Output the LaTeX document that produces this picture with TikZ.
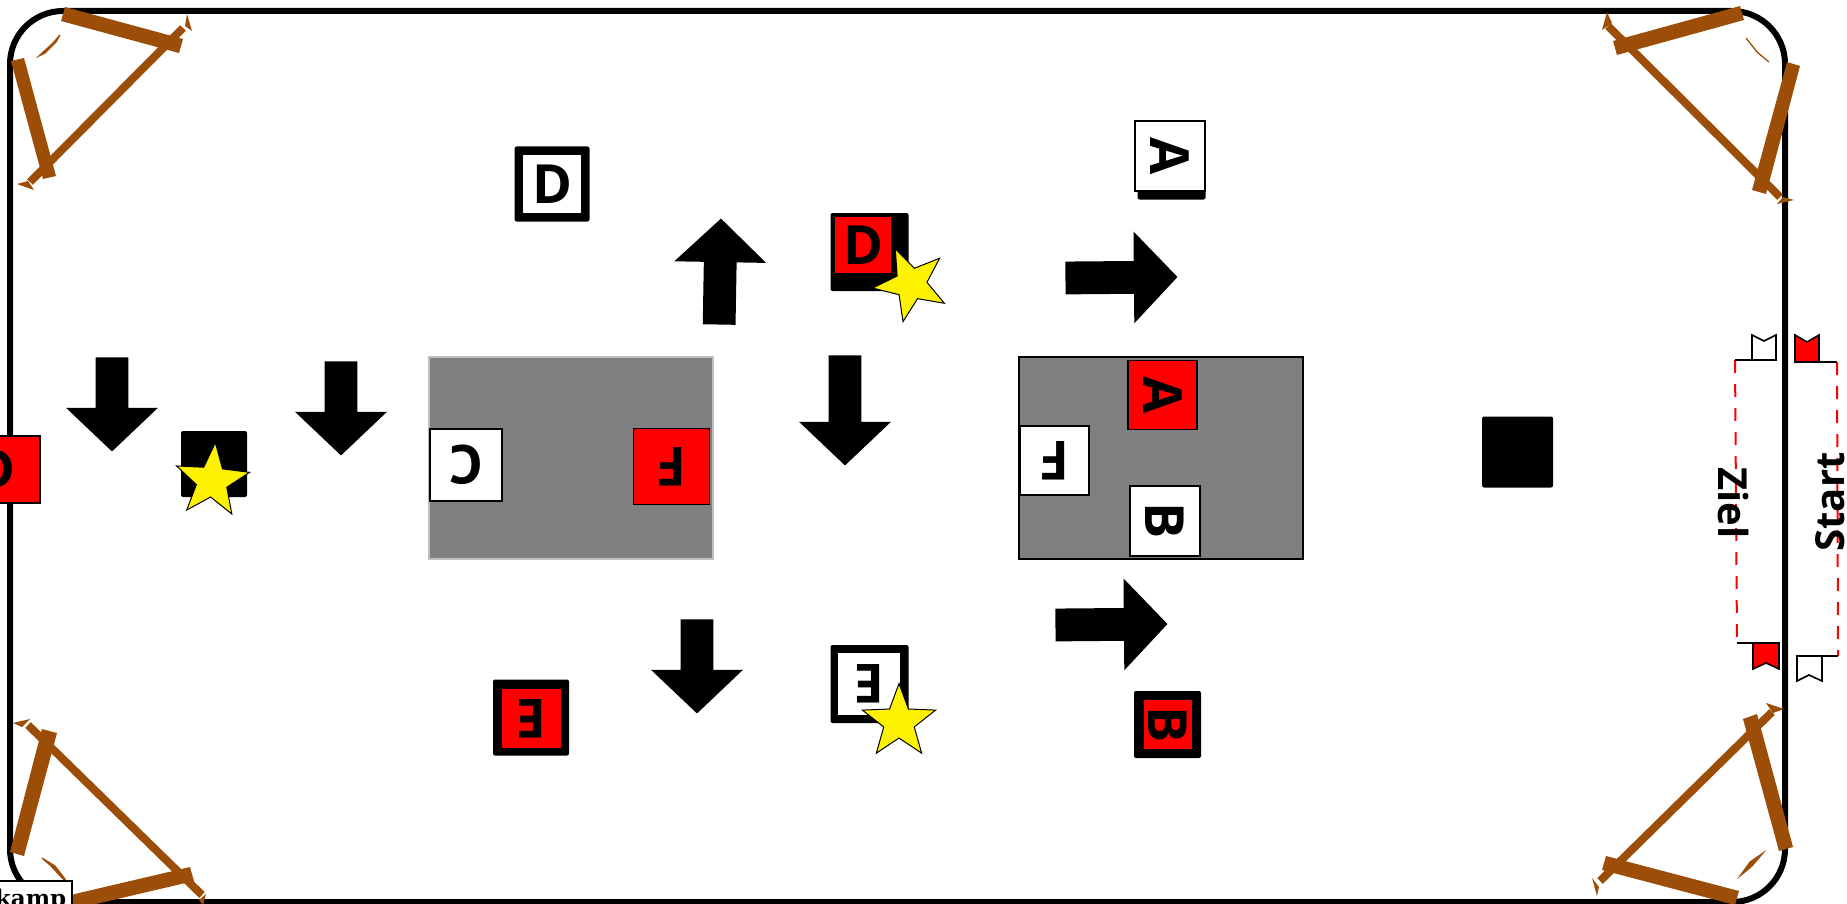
\documentclass[tikz,border=0pt]{standalone}
\usepackage{fontspec}
\setmainfont{Open Sans}
\newfontfamily\kampfont{DejaVu Serif}
\usepackage{tikz}
\usetikzlibrary{shapes.arrows,shapes.geometric}

\begin{document}
\begin{tikzpicture}[x=0.5pt,y=-0.5pt,
    block arrow/.style={single arrow,fill=black,inner xsep=0pt,inner ysep=8pt,single arrow head extend=14.75pt,single arrow tip angle=93,minimum height=47pt,anchor=tip},
    long arrow/.style={block arrow,minimum height=55pt},
    base node/.style={rectangle,fill=black,rounded corners=1pt,inner sep=0pt},
    face node/.style={rectangle,draw=black,line width=0.8pt,inner sep=0pt,font=\bfseries\fontsize{27}{30}\selectfont},
    white face/.style={face node,fill=white},
    red face/.style={face node,fill=red},
    field node/.style={rectangle,fill=gray,inner sep=0pt,minimum width=142pt,minimum height=101pt},
    star node/.style={star,star points=5,star point ratio=2.4,minimum size=38.5pt,inner sep=0pt,draw=black,line width=0.5pt,fill=yellow},
    flag/.style={draw=black,line width=0.8pt},
    goal line/.style={draw=red,line width=1pt,dash pattern=on 6.5pt off 5.5pt},
    side label/.style={font=\bfseries\fontsize{20}{24}\selectfont,inner sep=0pt},
    brace/.style={fill=brownbar},
    brace mark/.style={fill=brownbar,draw=brownbar,line width=0.6pt},
    brace rod/.style={draw=brownbar,line width=4pt}]
\definecolor{brownbar}{RGB}{156,78,8}

\fill[white] (0,0) rectangle (1847,904);
\useasboundingbox (0,0) rectangle (1847,904);

\draw[line width=3pt,rounded corners=26.5pt] (10,11) rectangle (1785,902);

% top left
\draw[brace rod] (183,28) -- (30,182);
\fill[brace] (65,7) -- (183,39) -- (179,53) -- (61,21) -- cycle;
\fill[brace] (11,61) -- (24,58) -- (56,176) -- (43,179) -- cycle;
\fill[brace] (187,14) -- (192,31) -- (185,26) -- cycle;
\fill[brace] (17,184) -- (28,181) -- (34,190) -- cycle;
\filldraw[brace mark] (60,35) -- (53,43) -- (39,56) -- (45,53) -- (56,42) -- cycle;

% top right
\draw[brace rod] (1608,26) -- (1780,197);
\fill[brace] (1740,6) -- (1744,20) -- (1617,55) -- (1613,41) -- cycle;
\fill[brace] (1787,62) -- (1800,66) -- (1766,194) -- (1752,190) -- cycle;
\fill[brace] (1607,12) -- (1612,23) -- (1602,30) -- cycle;
\fill[brace] (1777,204) -- (1794,200) -- (1783,197) -- cycle;
\filldraw[brace mark] (1746,38) -- (1757,52) -- (1769,62) -- (1758,53) -- (1750,43) -- cycle;

% bottom right
\draw[brace rod] (1772,712) -- (1600,881);
\fill[brace] (1743,719) -- (1757,714) -- (1793,847) -- (1779,851) -- cycle;
\fill[brace] (1606,856) -- (1739,891) -- (1735,905) -- (1602,870) -- cycle;
\fill[brace] (1766,703) -- (1784,709) -- (1773,713) -- cycle;
\fill[brace] (1592,878) -- (1599,887) -- (1597,896) -- cycle;
\filldraw[brace mark] (1763,853) -- (1750,862) -- (1740,876) -- (1752,866) -- cycle;

% bottom left
\draw[brace rod] (28,725) -- (202,895);
\fill[brace] (42,729) -- (57,733) -- (24,856) -- (10,852) -- cycle;
\fill[brace] (190,867) -- (194,881) -- (66,911) -- (62,897) -- cycle;
\fill[brace] (13,723) -- (30,719) -- (22,727) -- cycle;
\fill[brace] (206,894) -- (199,900) -- (203,905) -- cycle;
\filldraw[brace mark] (42,858) -- (55,866) -- (65,879) -- (66,882) -- (50,865) -- cycle;

\node[rectangle,draw=black,line width=0.8pt,fill=white,inner xsep=3pt,inner ysep=4pt,anchor=north east,font=\kampfont\bfseries\fontsize{11.5}{13}\selectfont] (kamp) at (73,880) {kamp};

\node[block arrow,rotate=-90] (arrow left) at (112,452) {};
\node[block arrow,rotate=-90] (arrow field) at (341,456) {};
\node[block arrow,rotate=89,minimum height=53pt] (arrow up) at (721,218) {};
\node[long arrow,rotate=-90] (arrow mid) at (845,466) {};
\node[long arrow,minimum height=56pt,rotate=0.5] (arrow upper) at (1178,277) {};
\node[long arrow,minimum height=56pt,rotate=0.5] (arrow lower) at (1168,624) {};
\node[block arrow,rotate=-90] (arrow low) at (697,714) {};

\node[field node,draw=lightgray,line width=1pt] (field left) at (571,458) {};
\node[field node,draw=black,line width=1pt] (field right) at (1160.5,457.5) {};

\node[red face,minimum width=45pt,minimum height=33.5pt] (d edge) at (-5,469.5) {D};

\node[base node,minimum size=33pt] (base start) at (214,464) {};
\node[star node,rotate=-5] (star start) at (212,481) {};

\node[base node,minimum size=35.5pt] (base end) at (1517.5,452) {};

\node[white face,minimum size=36pt,rotate=180] (c tile) at (466,465) {C};
\node[red face,minimum size=38pt,rotate=180] (f tile) at (671.5,466.5) {F};
\node[red face,minimum size=34.5pt,rotate=-90] (a red) at (1162.5,395) {A};
\node[white face,minimum size=34.5pt,rotate=180] (f white) at (1054.5,460.5) {F};
\node[white face,minimum size=35pt,rotate=-90] (b white) at (1165,521) {B};

\node[base node,minimum size=37.5pt] (base d) at (552,184) {};
\node[white face,minimum size=29.5pt] (d white) at (552,184) {D};

\node[base node,minimum size=39pt] (base dr) at (869.5,252) {};
\node[red face,minimum size=28.5pt] (d red) at (863,245) {D};
\node[star node,rotate=24] (star d) at (911,284) {};

\node[base node,minimum size=34pt] (base a) at (1171.5,165.5) {};
\node[white face,minimum size=35pt,rotate=-90] (a white) at (1170,156) {A};

\node[base node,minimum size=38pt] (base er) at (531,717.5) {};
\node[red face,minimum size=30pt,rotate=180] (e red) at (531.5,718.5) {E};

\node[base node,minimum size=39pt] (base ew) at (869.5,684) {};
\node[white face,minimum size=32pt,rotate=180] (e white) at (869,684) {E};
\node[star node] (star e) at (899,722) {};

\node[base node,minimum size=33.5pt] (base br) at (1167.5,724.5) {};
\node[red face,minimum size=25pt,rotate=-90] (b red) at (1168,724.5) {B};

\coordinate (ziel top) at (1735,360);
\coordinate (ziel bottom) at (1737,643);
\coordinate (start top) at (1837,362);
\coordinate (start bottom) at (1838,656);

\draw[goal line] (ziel top) -- (ziel bottom);
\draw[goal line] (start top) -- (start bottom);

\draw[flag,fill=white] (1752,360) -- (1752,335) -- (1764,341) -- (1776,335) -- (1776,360) -- cycle;
\draw[flag] (ziel top) -- (1752,360);
\draw[flag,fill=red] (1795,362) -- (1795,335) -- (1807,342) -- (1819,335) -- (1819,362) -- cycle;
\draw[flag] (1819,362) -- (start top);
\draw[flag,fill=red] (1753,643) -- (1753,669) -- (1766,663) -- (1779,669) -- (1779,643) -- cycle;
\draw[flag] (ziel bottom) -- (1753,643);
\draw[flag,fill=white] (1797,656) -- (1797,681) -- (1809,675) -- (1822,681) -- (1822,656) -- cycle;
\draw[flag] (1822,656) -- (start bottom);

\node[side label,rotate=-90] (ziel) at (1733,503) {Ziel};
\node[side label,rotate=90] (start) at (1830,502) {Start};

\end{tikzpicture}
\end{document}
